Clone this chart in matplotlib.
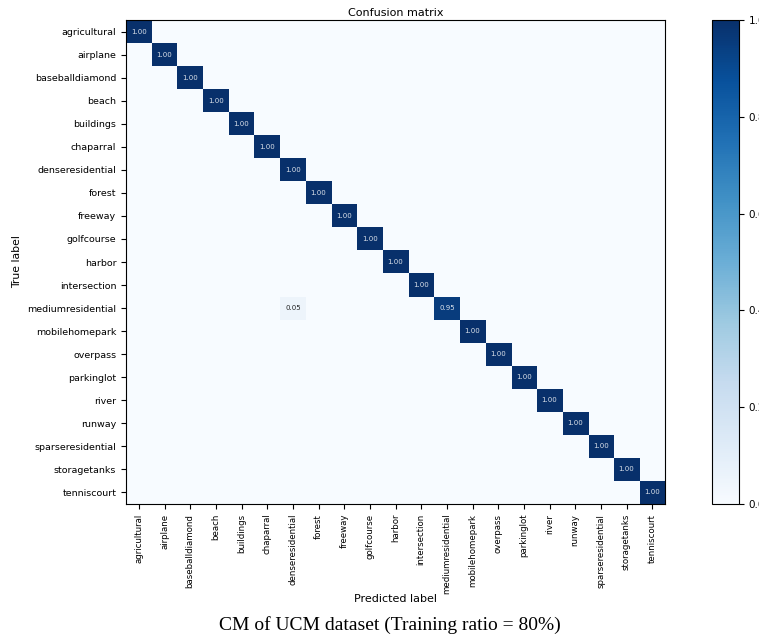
import numpy as np
import matplotlib
matplotlib.use('Agg')
import matplotlib.pyplot as plt

classes = ['agricultural', 'airplane', 'baseballdiamond', 'beach', 'buildings',
           'chaparral', 'denseresidential', 'forest', 'freeway', 'golfcourse',
           'harbor', 'intersection', 'mediumresidential', 'mobilehomepark',
           'overpass', 'parkinglot', 'river', 'runway', 'sparseresidential',
           'storagetanks', 'tenniscourt']

# diagonal accuracy per class, plus the only off-diagonal confusion
diag_values = [1.00, 1.00, 1.00, 1.00, 1.00, 1.00, 1.00, 1.00, 1.00, 1.00, 1.00,
               1.00, 0.95, 1.00, 1.00, 1.00, 1.00, 1.00, 1.00, 1.00, 1.00]
off_rows = [12]
off_cols = [6]
off_values = [0.05]

n = len(classes)
cm = np.zeros((n, n))
cm[np.arange(n), np.arange(n)] = diag_values
cm[off_rows, off_cols] = off_values

fig = plt.figure(figsize=(7.59, 6.38), dpi=100)
ax = fig.add_axes([126/759, 1 - 504/638, 539/759, 484/638])
cax = fig.add_axes([712/759, 1 - 504/638, 27/759, 484/638])

im = ax.imshow(cm, interpolation='nearest', cmap=plt.cm.Blues, vmin=0, vmax=1, aspect='auto')
ax.set_title('Confusion matrix', fontsize=8, pad=3)
cb = fig.colorbar(im, cax=cax)
cb.ax.tick_params(labelsize=7.5)

ticks = np.arange(n)
ax.set_xticks(ticks)
ax.set_xticklabels(classes, rotation=90, fontsize=6.2)
ax.set_yticks(ticks)
ax.set_yticklabels(classes, fontsize=6.8)

thresh = cm.max() / 2.
for i in range(n):
    for j in range(n):
        if cm[i, j] > 0:
            ax.text(j, i, '{:.2f}'.format(cm[i, j]), ha='center', va='center', fontsize=5,
                    color='white' if cm[i, j] > thresh else 'black', alpha=0.85)

ax.set_ylabel('True label', fontsize=7.8, labelpad=4)
ax.set_xlabel('Predicted label', fontsize=8, labelpad=0)

fig.text(390/759, 1 - 625/638, 'CM of UCM dataset (Training ratio = 80%)',
         ha='center', va='center', fontsize=14, family='Liberation Serif')

plt.savefig('out.png', dpi=100)
plt.close()
